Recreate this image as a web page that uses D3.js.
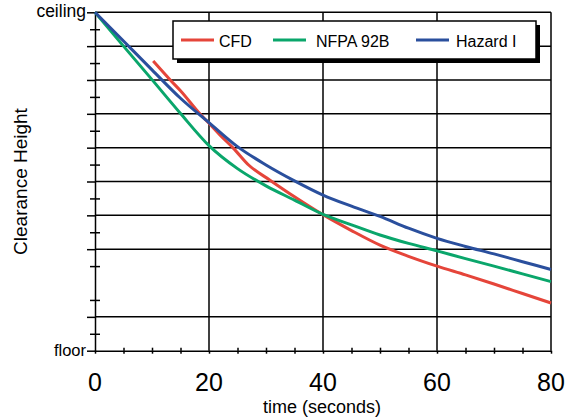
<!DOCTYPE html>
<html>
<head>
<meta charset="utf-8">
<script src="https://cdn.jsdelivr.net/npm/d3@7"></script>
<style>
  html, body { margin: 0; padding: 0; background: #fff; }
  svg { display: block; font-family: "Liberation Sans", Arial, Helvetica, sans-serif; }
</style>
</head>
<body>
<svg id="chart" width="577" height="417"></svg>
<script>
// ---- data ----
const seriesNames = ["CFD", "NFPA 92B", "Hazard I"];
const cfdT    = [10.2, 13.2, 15, 18.4, 20, 22, 24.3, 27, 30.7, 35, 40, 45, 50, 55, 60, 65, 70, 75, 80];
const cfdH    = [0.856, 0.800, 0.768, 0.700, 0.672, 0.636, 0.598, 0.548, 0.504, 0.455, 0.402, 0.355, 0.312, 0.279, 0.250, 0.224, 0.197, 0.169, 0.141];
const nfpaT   = [0, 5, 10, 15, 20, 25, 30, 35, 40, 45, 50, 55, 60, 65, 70, 75, 80];
const nfpaH   = [1.0, 0.900, 0.801, 0.701, 0.606, 0.538, 0.487, 0.445, 0.403, 0.372, 0.342, 0.317, 0.295, 0.272, 0.250, 0.227, 0.204];
const hazardT = [0, 5, 10, 15, 20, 25, 30, 35, 40, 45, 50, 55, 60, 65, 70, 75, 80];
const hazardH = [1.0, 0.915, 0.830, 0.746, 0.674, 0.603, 0.549, 0.502, 0.460, 0.427, 0.397, 0.362, 0.332, 0.308, 0.286, 0.263, 0.240];
const xMajorTicks = [0, 20, 40, 60, 80];
const xMinorTicks = [5, 10, 15, 25, 30, 35, 45, 50, 55, 65, 70, 75];
const yGridTicks  = [0.1, 0.3, 0.4, 0.5, 0.6, 0.7, 0.8, 0.9];
const yMinorTicks = [0.05, 0.15, 0.25, 0.35, 0.45, 0.55, 0.65, 0.75, 0.85, 0.95];
const yEndTicks   = [0, 1];
const yEndLabels  = ["floor", "ceiling"];
const xTitle = "time (seconds)";
const yTitle = "Clearance Height";

// ---- layout ----
const colors = ["#e5453a", "#0aa66b", "#2a4f9d"];
const pLeft = 95, pRight = 551, pTop = 12.3, pBottom = 350.7;
const x = d3.scaleLinear().domain([0, 80]).range([pLeft, pRight]);
const y = d3.scaleLinear().domain([0, 1]).range([pBottom, pTop]);

const svg = d3.select("#chart");

// gridlines
const grid = svg.append("g").attr("stroke", "#000").attr("stroke-width", 1.5);
grid.selectAll("line.h").data(yGridTicks).join("line")
  .attr("x1", pLeft).attr("x2", pRight)
  .attr("y1", d => y(d)).attr("y2", d => y(d));
grid.selectAll("line.v").data(xMajorTicks.filter(d => d > 0 && d < 80)).join("line")
  .attr("x1", d => x(d)).attr("x2", d => x(d))
  .attr("y1", pTop).attr("y2", pBottom);
grid.append("line").attr("x1", pLeft).attr("x2", pRight).attr("y1", pTop).attr("y2", pTop);
grid.append("line").attr("x1", pRight).attr("x2", pRight).attr("y1", pTop).attr("y2", pBottom);

function styleAxis(g) {
  g.select(".domain").attr("stroke", "#000").attr("stroke-width", 1.5);
  g.selectAll(".tick line").attr("stroke", "#000").attr("stroke-width", 1.5);
}

// y axis
svg.append("g").attr("transform", `translate(${pLeft},0)`)
  .call(d3.axisLeft(y).tickValues(yGridTicks.concat(yEndTicks)).tickSize(8).tickSizeOuter(0).tickFormat(""))
  .call(styleAxis);
svg.append("g").attr("transform", `translate(${pLeft},0)`)
  .call(d3.axisLeft(y).tickValues(yMinorTicks).tickSize(5).tickSizeOuter(0).tickFormat(""))
  .call(styleAxis).call(g => g.select(".domain").remove());
svg.append("g").attr("transform", `translate(${pLeft},0)`)
  .call(d3.axisRight(y).tickValues(yMinorTicks).tickSize(5).tickSizeOuter(0).tickFormat(""))
  .call(styleAxis).call(g => g.select(".domain").remove());

svg.append("g").selectAll("text").data(yEndTicks).join("text")
  .attr("x", pLeft - 9)
  .attr("y", d => y(d) + 5)
  .attr("text-anchor", "end")
  .attr("font-size", d => d === 1 ? 17.5 : 16.5)
  .text((d, i) => yEndLabels[i]);

// x axis
svg.append("g").attr("transform", `translate(0,${pBottom})`)
  .call(d3.axisBottom(x).tickValues(xMajorTicks).tickSize(3).tickSizeOuter(0).tickFormat(""))
  .call(styleAxis);
svg.append("g").attr("transform", `translate(0,${pBottom})`)
  .call(d3.axisBottom(x).tickValues(xMinorTicks).tickSize(3).tickSizeOuter(0).tickFormat(""))
  .call(styleAxis).call(g => g.select(".domain").remove());
svg.append("g").attr("transform", `translate(0,${pBottom})`)
  .call(d3.axisTop(x).tickValues(xMinorTicks).tickSize(3).tickSizeOuter(0).tickFormat(""))
  .call(styleAxis).call(g => g.select(".domain").remove());

svg.append("g").selectAll("text").data(xMajorTicks).join("text")
  .attr("x", d => x(d))
  .attr("y", 391)
  .attr("text-anchor", "middle")
  .attr("font-size", 25)
  .text(d => d);

svg.append("text").attr("x", 322).attr("y", 413)
  .attr("text-anchor", "middle").attr("font-size", 18).text(xTitle);
svg.append("text")
  .attr("transform", `translate(27,${(pTop + pBottom) / 2}) rotate(-90)`)
  .attr("text-anchor", "middle").attr("font-size", 19).text(yTitle);

// curves
const seriesData = [
  cfdT.map((t, i) => [t, cfdH[i]]),
  nfpaT.map((t, i) => [t, nfpaH[i]]),
  hazardT.map((t, i) => [t, hazardH[i]])
];
const line = d3.line().x(d => x(d[0])).y(d => y(d[1])).curve(d3.curveMonotoneX);
svg.append("g").selectAll("path").data(seriesData).join("path")
  .attr("d", line)
  .attr("fill", "none")
  .attr("stroke", (d, i) => colors[i])
  .attr("stroke-width", 3)
  .attr("stroke-linejoin", "round");

// legend
const lg = svg.append("g");
const lx = 173, ly = 21, lw = 363, lh = 38;
lg.append("rect").attr("x", lx + 4).attr("y", ly + 4).attr("width", lw).attr("height", lh).attr("fill", "#000");
lg.append("rect").attr("x", lx).attr("y", ly).attr("width", lw).attr("height", lh)
  .attr("fill", "#fff").attr("stroke", "#000").attr("stroke-width", 1.5);
const legendLineX = [181, 273, 416];
const items = lg.selectAll("g.item").data(seriesNames).join("g");
items.append("line")
  .attr("x1", (d, i) => legendLineX[i]).attr("x2", (d, i) => legendLineX[i] + 33)
  .attr("y1", 40).attr("y2", 40)
  .attr("stroke", (d, i) => colors[i]).attr("stroke-width", 3);
items.append("text")
  .attr("x", (d, i) => legendLineX[i] + (i === 0 ? 38 : i === 1 ? 43 : 40))
  .attr("y", 47)
  .attr("font-size", 16)
  .text(d => d);
</script>
</body>
</html>
